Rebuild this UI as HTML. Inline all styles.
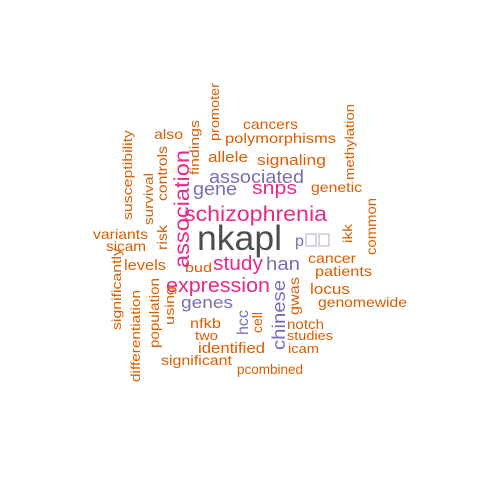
<!DOCTYPE html>
<html><head><meta charset="utf-8"><style>
html,body{margin:0;padding:0;background:#fff;}
svg{display:block;font-family:"Liberation Sans",Arial,sans-serif;}
</style></head><body>
<svg id="cloud" width="480" height="480" viewBox="0 0 480 480"></svg>
<script>
const words=["nkapl","schizophrenia","expression","study","associated","gene","snps","han","genes","cancers","polymorphisms","allele","signaling","genetic","also","variants","sicam","levels","bud","cancer","patients","locus","genomewide","nfkb","two","identified","notch","studies","icam","significant","pcombined","association","chinese","hcc","cell","gwas","ikk","common","methylation","promoter","findings","susceptibility","survival","controls","risk","significantly","differentiation","population","using"];
const sizes=[35,21,20,20,18,18,18,18,17,14,14,15,15,14,14,14,14,15,13,14,14,15,14,14,13,15,14,13,13,14,14,21,18,16,14,14,13,14,13,13,13,13,13,14,14,13,13,14,13];
const colors=["#4d4d4d","#e7298a","#e7298a","#e7298a","#7570b3","#7570b3","#e7298a","#7570b3","#7570b3","#d95f02","#d95f02","#d95f02","#d95f02","#d95f02","#d95f02","#d95f02","#d95f02","#d95f02","#d95f02","#d95f02","#d95f02","#d95f02","#d95f02","#d95f02","#d95f02","#d95f02","#d95f02","#d95f02","#d95f02","#d95f02","#d95f02","#e7298a","#7570b3","#7570b3","#d95f02","#d95f02","#d95f02","#d95f02","#d95f02","#d95f02","#d95f02","#d95f02","#d95f02","#d95f02","#d95f02","#d95f02","#d95f02","#d95f02","#d95f02"];
const rot=[0,0,0,0,0,0,0,0,0,0,0,0,0,0,0,0,0,0,0,0,0,0,0,0,0,0,0,0,0,0,0,1,1,1,1,1,1,1,1,1,1,1,1,1,1,1,1,1,1];
// layout: [x, y, length] – horizontal: left,baseline; rotated: baseline x, bottom y
const layout=[[197,250,85],[184,221,143],[166,292,104],[213,270,50],[209,183,95],[193,195,44],[252,194,45],[266,270,34],[181,308,52],[243,129,55],[225,143,111],[208,162,40],[257,165,69],[311,192,51],[154,139,29],[93,239,55],[106,251,40],[124,270,42],[185,272,27],[308,263,48],[315,276,57],[310,294,40],[318,307,89],[190,328,31],[195,340,23],[198,353,67],[287,329,37],[287,340,46],[288,353,31],[161,365,71],[237,374,66],
[189,268,118],[285,350,70],[248,335,25],[262,333,21],[299,315,38],[352,243,19],[376,255,57],[354,180,76],[219,141,58],[199,175,55],[132,220,90],[153,225,52],[167,201,55],[167,250,25],[121,330,82],[140,382,92],[159,348,70],[174,325,39]];
const svg=document.getElementById('cloud');
const NS='http://www.w3.org/2000/svg';
words.forEach((w,i)=>{
  const t=document.createElementNS(NS,'text');
  
  
  const [x,y,len]=layout[i];
  t.setAttribute('font-size',sizes[i]);
  t.setAttribute('fill',colors[i]);
  t.setAttribute('textLength',len);
  t.setAttribute('lengthAdjust','spacingAndGlyphs');
  if(rot[i]){t.setAttribute('transform','translate('+x+','+y+') rotate(-90)');}
  else{t.setAttribute('x',x);t.setAttribute('y',y);}
  t.textContent=w;
  svg.appendChild(t);
});
</script>
<svg style="position:absolute;left:0;top:0" width="480" height="480">
<text x="295" y="246" font-size="16" fill="#7570b3" font-family="Liberation Sans, sans-serif">p</text>
<rect x="306" y="234" width="10" height="12" fill="none" stroke="#c8c6e3" stroke-width="1.5"/>
<rect x="319" y="234" width="10" height="12" fill="none" stroke="#c8c6e3" stroke-width="1.5"/>
</svg>
</body></html>
